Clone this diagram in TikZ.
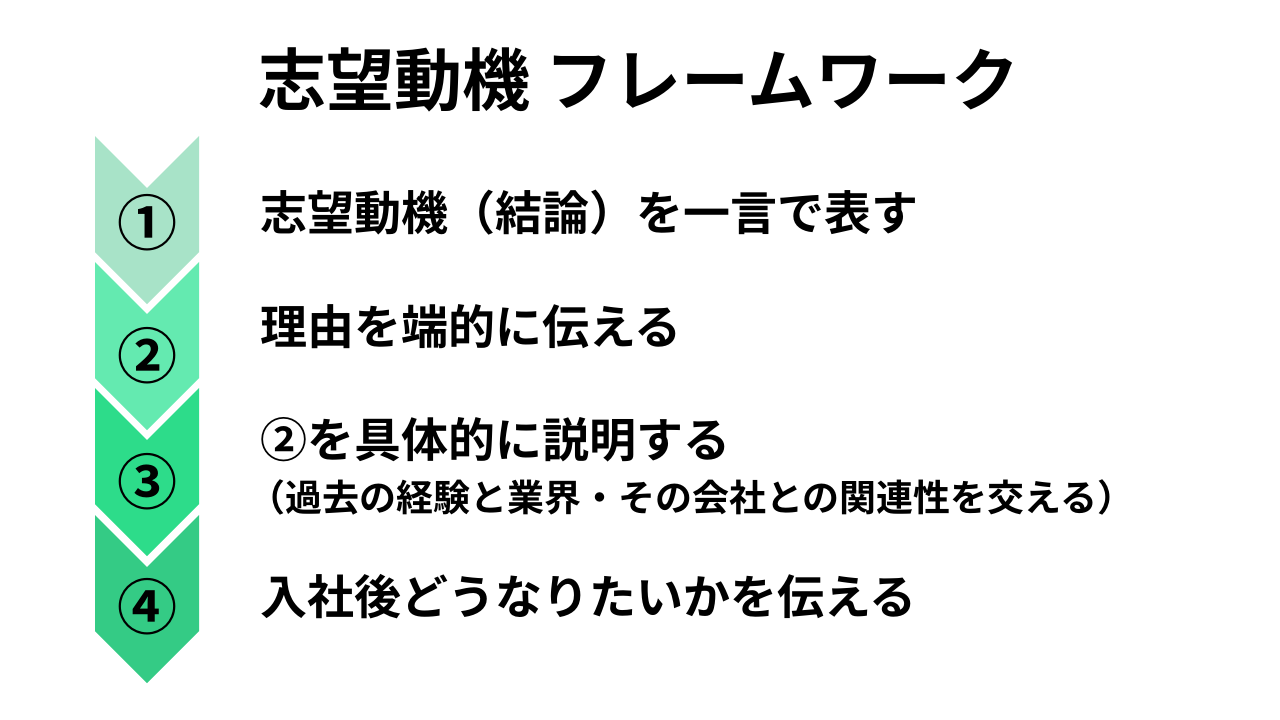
\documentclass[tikz,border=0pt]{standalone}
\usepackage{fontspec}
\usepackage{xcolor}
\newfontfamily\jpfont{Noto Sans CJK JP}[UprightFont=* Bold]
\definecolor{stepA}{HTML}{A8E3C8}
\definecolor{stepB}{HTML}{64EAB0}
\definecolor{stepC}{HTML}{2DDC8A}
\definecolor{stepD}{HTML}{34CB85}

\begin{document}
\begin{tikzpicture}[x=1pt, y=-1pt, every node/.style={inner sep=0pt, text=black}]
    \useasboundingbox[fill=white] (0,0) rectangle (1280,720);
    % Draw the chevrons with their numbers
    \foreach \i/\c/\t/\m/\n in {1/stepA/136/223/①, 2/stepB/262/356/②, 3/stepC/388/482/③, 4/stepD/515/607/④} {
        \fill[\c] (95,\t) -- (147,\t+52) -- (199,\t) -- (199,\t+116) -- (147,\t+168) -- (95,\t+116) -- cycle;
        \node[font=\jpfont\fontsize{60}{60}\selectfont] (num\i) at (147,\m) {\n};
    }
    % Title and steps
    \node[anchor=west, font=\jpfont\fontsize{68}{68}\selectfont] (title) at (258,80) {志望動機 フレームワーク};
    \node[anchor=west, font=\jpfont\fontsize{47}{47}\selectfont] (step1) at (260,213) {志望動機（結論）を一言で表す};
    \node[anchor=west, font=\jpfont\fontsize{47}{47}\selectfont] (step2) at (260,327) {理由を端的に伝える};
    \node[anchor=west, font=\jpfont\fontsize{47}{47}\selectfont] (step3) at (260,440) {②を具体的に説明する};
    \node[anchor=west, font=\jpfont\fontsize{37}{37}\selectfont] (note3) at (248,497) {（過去の経験と業界・その会社との関連性を交える）};
    \node[anchor=west, font=\jpfont\fontsize{47}{47}\selectfont] (step4) at (260,597) {入社後どうなりたいかを伝える};
\end{tikzpicture}
\end{document}
